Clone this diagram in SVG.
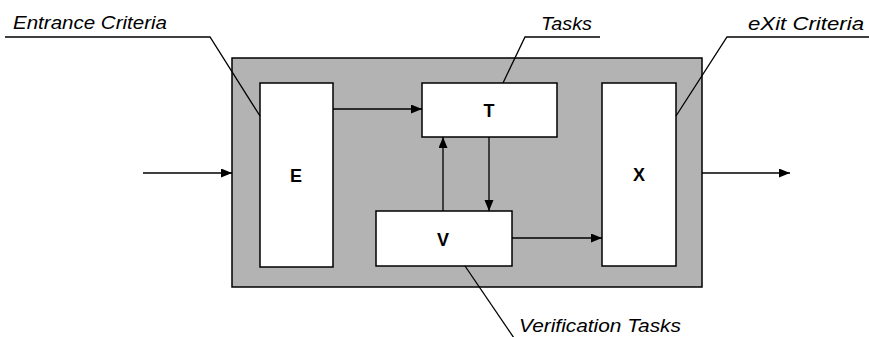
<svg xmlns="http://www.w3.org/2000/svg" width="869" height="337" viewBox="0 0 869 337">
<style>
.box{fill:#ffffff;stroke:#000;stroke-width:1.5}
.lbl{font-family:"Liberation Sans",Arial,sans-serif;font-weight:bold;font-size:18px;text-anchor:middle;fill:#000}
.note{font-family:"Liberation Sans",Arial,sans-serif;font-style:italic;font-size:19px;fill:#000}
.con{stroke:#000;stroke-width:1.3;fill:none}
.arr{marker-end:url(#ah)}
</style>
<defs>
<marker id="ah" markerUnits="userSpaceOnUse" markerWidth="12" markerHeight="10" refX="11" refY="4.5" orient="auto">
<path d="M0,0 L11,4.5 L0,9 z" fill="#000"/>
</marker>
</defs>
<rect id="frame" x="232" y="58" width="470" height="229" fill="#b3b3b3" stroke="#000" stroke-width="1.5"/>
<g id="nodeE"><rect class="box" x="260" y="83" width="73" height="184"/><text class="lbl" x="296" y="182">E</text></g>
<g id="nodeT"><rect class="box" x="422" y="83" width="135" height="54"/><text class="lbl" x="489" y="117">T</text></g>
<g id="nodeV"><rect class="box" x="376" y="211" width="136" height="55"/><text class="lbl" x="443" y="246">V</text></g>
<g id="nodeX"><rect class="box" x="602" y="83" width="74" height="183"/><text class="lbl" x="639" y="181">X</text></g>
<g id="connectors">
<line class="con arr" x1="143" y1="173" x2="232" y2="173"/>
<line class="con arr" x1="702" y1="173" x2="790" y2="173"/>
<line class="con arr" x1="333" y1="109" x2="422" y2="109"/>
<line class="con arr" x1="489" y1="137" x2="489" y2="211"/>
<line class="con arr" x1="443" y1="211" x2="443" y2="137"/>
<line class="con arr" x1="512" y1="238" x2="602" y2="238"/>
</g>
<g id="callouts">
<polyline class="con" points="5,37 210,37 260,116"/>
<polyline class="con" points="600,37 525,37 503,83"/>
<polyline class="con" points="869,37 727,37 676,116"/>
<polyline class="con" points="465,266 514,338"/>
<text class="note" x="13" y="29" textLength="154" lengthAdjust="spacingAndGlyphs">Entrance Criteria</text>
<text class="note" x="541" y="30" textLength="51" lengthAdjust="spacingAndGlyphs">Tasks</text>
<text class="note" x="748" y="30" textLength="116" lengthAdjust="spacingAndGlyphs">eXit Criteria</text>
<text class="note" x="519" y="332" textLength="162" lengthAdjust="spacingAndGlyphs">Verification Tasks</text>
</g>
</svg>
